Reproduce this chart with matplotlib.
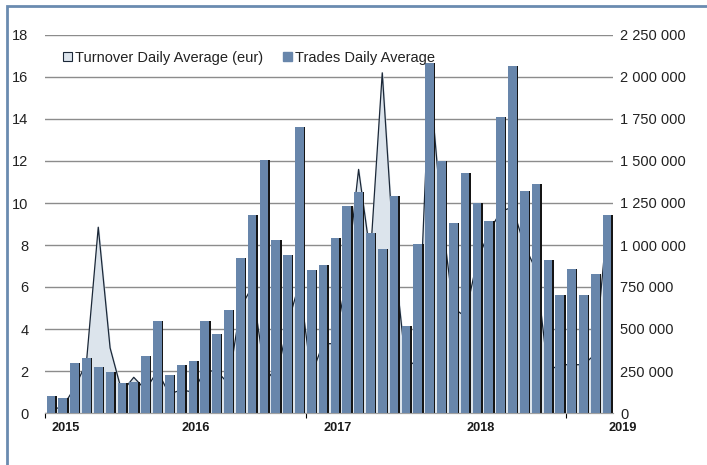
import numpy as np
import matplotlib
matplotlib.use("Agg")
import matplotlib.pyplot as plt
from matplotlib.patches import Patch, Rectangle
from matplotlib.ticker import FuncFormatter, MultipleLocator

plt.rcParams['font.family'] = ['Liberation Sans', 'DejaVu Sans']

# monthly data, Jan 2015 .. Dec 2018
trades = [0.8, 0.7, 2.4, 2.6, 2.2, 1.95, 1.45, 1.5, 2.7, 4.4, 1.8, 2.3,
          2.5, 4.4, 3.75, 4.9, 7.4, 9.45, 12.05, 8.25, 7.5, 13.6, 6.8, 7.05,
          8.35, 9.85, 10.5, 8.55, 7.8, 10.35, 4.15, 8.05, 16.65, 12.0, 9.05, 11.45,
          10.0, 9.15, 14.1, 16.5, 10.55, 10.9, 7.3, 5.6, 6.85, 5.6, 6.6, 9.45]
turnover = [19000, 37500, 150000, 300000, 1106000, 387500, 125000, 212500, 137500, 250000, 112500, 137500,
            125000, 250000, 250000, 175000, 625000, 750000, 275000, 187500, 525000, 775000, 225000, 412500,
            412500, 812500, 1450000, 937500, 2025000, 937500, 275000, 312500, 2000000, 1187500, 625000, 575000,
            900000, 1075000, 1200000, 1225000, 1000000, 850000, 250000, 287500, 287500, 287500, 350000, 1125000]
year_labels = ['2015', '2016', '2017', '2018', '2019']
year_pos = [1.27, 12.26, 24.2, 36.3, 48.3]

bar_col = '#6886ab'
fill_col = '#dce4ec'
line_col = '#1b2838'
grid_col = '#8c8c8c'

fig = plt.figure(figsize=(7.07, 4.65), dpi=100)
ax2 = fig.add_axes([45 / 707, 52 / 465, 568 / 707, 378 / 465])
ax = ax2.twinx()
ax.set_zorder(ax2.get_zorder() + 1)
ax.patch.set_visible(False)

x = np.arange(len(trades))

# turnover area on the right scale, behind the bars
ax2.fill_between(x, turnover, 0, color=fill_col, zorder=2)
ax2.plot(x, turnover, color=line_col, lw=0.9, zorder=3)
ax2.set_ylim(0, 2250000)
ax2.yaxis.set_major_locator(MultipleLocator(250000))
ax2.yaxis.grid(True, color=grid_col, lw=1)
ax2.set_axisbelow(True)
ax2.yaxis.tick_right()
ax2.yaxis.set_major_formatter(FuncFormatter(lambda v, p: f"{int(v):,}".replace(",", " ")))
ax2.tick_params(axis='y', length=0, pad=5, labelsize=10.5, labelcolor='#222222')

# trades bars on the left scale, with a dark shadow
w = 0.74
ax.bar(x + 0.12, trades, width=w, color='#151515', zorder=2)
ax.bar(x, trades, width=w, color=bar_col, zorder=3)
ax.set_ylim(0, 18)
ax.yaxis.set_major_locator(MultipleLocator(2))
ax.yaxis.tick_left()
ax.tick_params(axis='y', length=0, pad=12, labelsize=10.5, labelcolor='#222222')

for a in (ax, ax2):
    a.set_xlim(-0.5, 47.5)
    for s in ('top', 'left', 'right'):
        a.spines[s].set_visible(False)
    a.spines['bottom'].set_color('#a0a0a0')
    a.set_xticks([])

ax.set_xticks([-0.5, 21.56, 43.5])
ax.set_xticklabels([])
ax.tick_params(axis='x', length=3, color='#a0a0a0')

for lab, pos in zip(year_labels, year_pos):
    ax.text(pos, -0.04, lab, transform=ax.get_xaxis_transform(), ha='center', va='center',
            fontsize=9.2, fontweight='bold', color='#1a1a1a', clip_on=False)

handles = [Patch(facecolor=fill_col, edgecolor=line_col, lw=0.8),
           Patch(facecolor=bar_col, edgecolor=bar_col)]
fig.legend(handles, ['Turnover Daily Average (eur)', 'Trades Daily Average'],
           loc='center left', bbox_to_anchor=(63 / 707, 1 - 58 / 465), ncol=2, frameon=False,
           fontsize=10.5, handlelength=0.6, handleheight=0.6, handletextpad=0.2,
           columnspacing=1.4, borderpad=0, borderaxespad=0, labelcolor='#222222')

fig.patches.append(Rectangle((7 / 707, -0.05), 1.1, 1 - 6 / 465 + 0.05, transform=fig.transFigure,
                             fill=False, edgecolor='#6a8bb0', lw=2))

fig.savefig('out.png', dpi=100)
